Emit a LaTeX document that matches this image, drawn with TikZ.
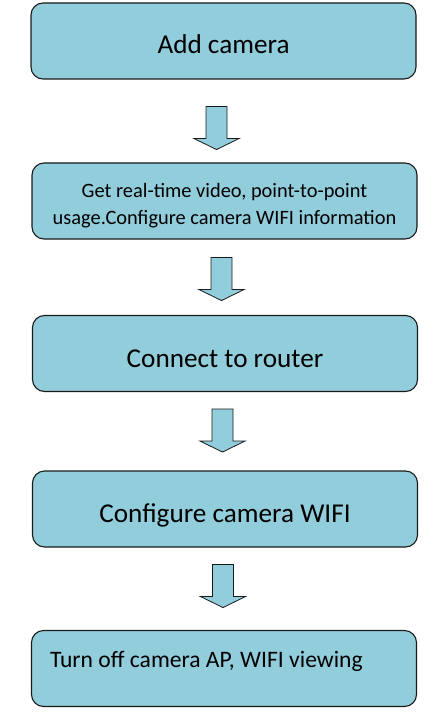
\documentclass[tikz,border=0pt]{standalone}
\usepackage{fontspec}
\setmainfont{Carlito}
\definecolor{boxfill}{HTML}{92CDDC}
\definecolor{edge}{HTML}{1A1A1A}
\tikzset{
  stepbox/.style={draw=edge, fill=boxfill, line width=1.1pt, rounded corners=12pt,
    minimum width=385pt, minimum height=76pt, inner sep=0pt, font=\fontsize{27.2}{32}\selectfont},
  blockarrow/.style={draw=edge, fill=boxfill, line width=0.8pt, line join=miter}
}
\newcommand\downblock[1]{%
  \draw[blockarrow] ([xshift=-10.5pt]#1) -- ++(0,32) -- ++(-12,0) -- ++(22.5,11)
    -- ++(22.5,-11) -- ++(-12,0) -- ++(0,-32) -- cycle;}
\begin{document}
\begin{tikzpicture}[x=1pt,y=-1pt]
\useasboundingbox (0,0) rectangle (435,719);
\node[stepbox] (b1) at (223.5,41) {\raisebox{-13pt}[0pt][0pt]{Add camera}};
\node[stepbox, font=\fontsize{20.4}{27}\selectfont] (b2) at (224.5,201)
  {\raisebox{-23pt}[0pt][0pt]{\begin{tabular}[b]{@{}c@{}}Get real-time video, point-to-point\\usage.Configure camera WIFI information\end{tabular}}};
\node[stepbox] (b3) at (225,353.5) {\raisebox{-13.5pt}[0pt][0pt]{Connect to router}};
\node[stepbox] (b4) at (225,509) {\raisebox{-13pt}[0pt][0pt]{Configure camera WIFI}};
\node[stepbox, font=\fontsize{23.6}{28}\selectfont] (b5) at (224,668.5)
  {\raisebox{1.5pt}[0pt][0pt]{\makebox[366pt][l]{\hspace{9pt}Turn off camera AP, WIFI viewing}}};
\coordinate (a1) at ([xshift=-7pt,yshift=-27pt]b1.south);
\coordinate (a2) at ([xshift=-3pt,yshift=-18pt]b2.south);
\coordinate (a3) at ([xshift=-2.5pt,yshift=-17pt]b3.south);
\coordinate (a4) at ([xshift=-2pt,yshift=-17pt]b4.south);
\downblock{a1}
\downblock{a2}
\downblock{a3}
\downblock{a4}
\end{tikzpicture}
\end{document}
